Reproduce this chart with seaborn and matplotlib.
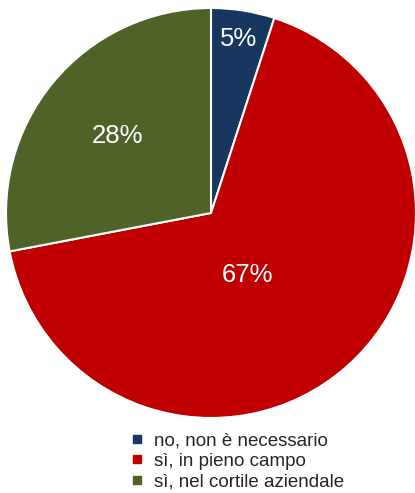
import numpy as np
import matplotlib
matplotlib.use("Agg")
import matplotlib.pyplot as plt
from matplotlib.lines import Line2D
import seaborn as sns

sns.set_theme(style="white")
plt.rcParams["font.family"] = ["Liberation Sans", "DejaVu Sans"]

categories = ["no, non è necessario", "sì, in pieno campo", "sì, nel cortile aziendale"]
shares = [5, 67, 28]
colors = ["#17375E", "#C00000", "#4F6228"]

fig = plt.figure(figsize=(4.15, 4.93), dpi=100)
ax = fig.add_axes([6 / 415, 75 / 493, 410 / 415, 410 / 493])

wedges, _ = ax.pie(
    shares, colors=colors, startangle=90, counterclock=False,
    wedgeprops=dict(edgecolor="white", linewidth=1.5), radius=1.0,
)
ax.set_xlim(-1, 1)
ax.set_ylim(-1, 1)
ax.set_aspect("equal")

# label placement: radial distance and angular nudge per slice (clockwise from 12 o'clock)
label_r = [0.86, 0.35, 0.59]
label_dtheta = [0.0, -11.0, 0.0]
total = float(sum(shares))
cum = np.cumsum([0] + shares)
for i, v in enumerate(shares):
    mid_deg = 90 - 360 * (cum[i] + cum[i + 1]) / 2 / total + label_dtheta[i]
    mid = np.deg2rad(mid_deg)
    ax.text(label_r[i] * np.cos(mid), label_r[i] * np.sin(mid), f"{v}%",
            ha="center", va="center", color="white", fontsize=18.5)

handles = [Line2D([0], [0], marker="s", linestyle="none", markersize=6,
                  markerfacecolor=c, markeredgecolor=c) for c in colors]
fig.legend(handles, categories, loc="upper center", bbox_to_anchor=(238 / 415, 1 - 423 / 493),
           frameon=False, fontsize=13.5, handlelength=0.6, handletextpad=0.6,
           labelspacing=0.18, borderpad=0)

fig.savefig("out.png", dpi=100)
